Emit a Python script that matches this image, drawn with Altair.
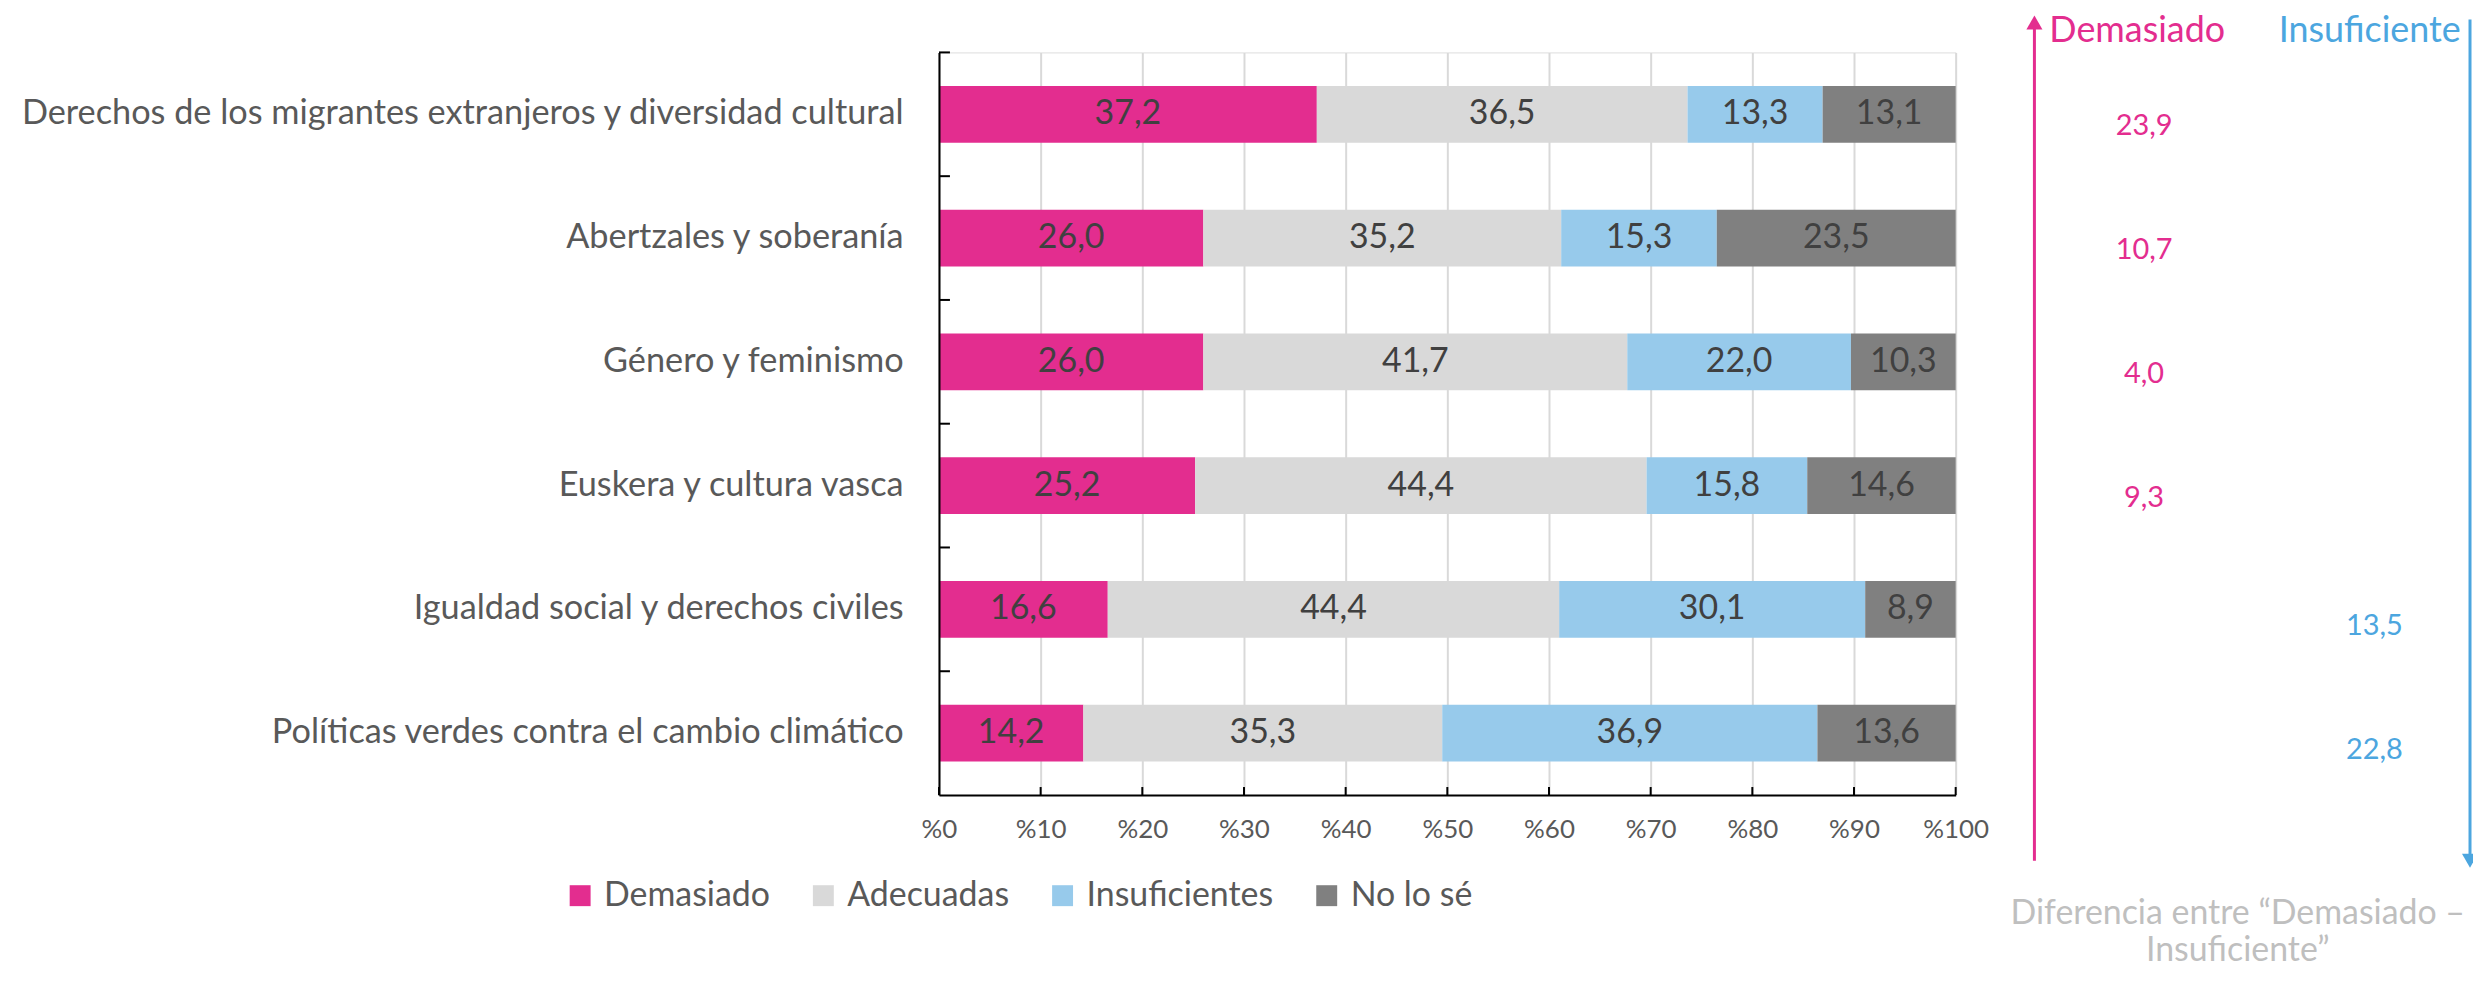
import altair as alt
import pandas as pd

cats = [
    "Derechos de los migrantes extranjeros y diversidad cultural",
    "Abertzales y soberanía",
    "Género y feminismo",
    "Euskera y cultura vasca",
    "Igualdad social y derechos civiles",
    "Políticas verdes contra el cambio climático",
]
responses = ["Demasiado", "Adecuadas", "Insuficientes", "No lo sé"]
demasiado = [37.2, 26.0, 26.0, 25.2, 16.6, 14.2]
adecuadas = [36.5, 35.2, 41.7, 44.4, 44.4, 35.3]
insuficientes = [13.3, 15.3, 22.0, 15.8, 30.1, 36.9]
no_lo_se = [13.1, 23.5, 10.3, 14.6, 8.9, 13.6]
diferencia = [23.9, 10.7, 4.0, 9.3, -13.5, -22.8]
x_ticks = [0, 0.1, 0.2, 0.3, 0.4, 0.5, 0.6, 0.7, 0.8, 0.9, 1.0]

colors = ["#E32D8F", "#D9D9D9", "#97CAEB", "#808080"]
PINK = "#E32D8F"
BLUE = "#4CA6DF"
FONT = "Lato"
FONT2 = "Lato"

rows = []
for i, c in enumerate(cats):
    for j, (r, vals) in enumerate(zip(responses, [demasiado, adecuadas, insuficientes, no_lo_se])):
        rows.append({"cat": c, "resp": r, "order": j, "value": vals[i]})
df = pd.DataFrame(rows)
df_diff = pd.DataFrame({"cat": cats, "diff": diferencia})
df_ticks = pd.DataFrame({"t": x_ticks})
df_cats = pd.DataFrame({"cat": cats})
dummy = pd.DataFrame({"k": [0]})

yscale = alt.Scale(domain=cats, paddingInner=0, paddingOuter=0)
xscale = alt.Scale(domain=[0, 1], nice=False)

xaxis = alt.Axis(values=x_ticks, labelExpr="'%' + round(datum.value * 100)",
                 grid=True, gridColor="#D9D9D9", gridWidth=2,
                 domain=True, domainColor="#000000", domainWidth=2,
                 ticks=False, labelFont=FONT, labelFontSize=26, labelFlush=False,
                 labelColor="#595959", labelPadding=22, zindex=0, title=None)
yaxis = alt.Axis(domain=True, domainColor="#000000", domainWidth=2, ticks=False,
                 grid=False, labelFont=FONT, labelFontSize=34.4, labelColor="#595959",
                 labelPadding=36, labelLimit=3000, zindex=1, title=None)


def X(field):
    return alt.X(field, scale=xscale, axis=xaxis, title=None)


def Y(**kw):
    return alt.Y("cat:N", scale=yscale, axis=yaxis, title=None, **kw)


base = alt.Chart(df).transform_stack(
    stack="value", groupby=["cat"], as_=["x0", "x1"], offset="normalize",
    sort=[alt.SortField("order", order="ascending")],
).transform_calculate(
    mid="(datum.x0 + datum.x1) / 2",
    label="replace(format(datum.value, '.1f'), '.', ',')",
)

bars = base.mark_bar(height={"band": 0.459}).encode(
    x=X("x0:Q"),
    x2="x1:Q",
    y=Y(),
    color=alt.Color("resp:N", scale=alt.Scale(domain=responses, range=colors),
                    legend=alt.Legend(orient="none", legendX=-377, legendY=829,
                                      direction="horizontal", title=None,
                                      symbolType="square", symbolSize=441,
                                      symbolStrokeWidth=0, symbolOpacity=1,
                                      labelFont=FONT, labelFontSize=34, labelLimit=1000,
                                      labelColor="#595959", labelOffset=7,
                                      columnPadding=36)),
)

labels = base.mark_text(font=FONT, fontSize=34, color="#404040").encode(
    x=X("mid:Q"),
    y=Y(),
    text="label:N",
)

xtick_rules = alt.Chart(df_ticks).mark_rule(color="#000000", strokeWidth=2).encode(
    x=X("t:Q"),
    y=alt.value(737), y2=alt.value(745),
)

ytick_rules = alt.Chart(df_cats).mark_rule(color="#000000", strokeWidth=2).encode(
    y=Y(bandPosition=0),
    x=alt.value(0), x2=alt.value(11),
)

diff_base = alt.Chart(df_diff).transform_calculate(
    txt="replace(format(abs(datum.diff), '.1f'), '.', ',')"
)
pos_txt = diff_base.transform_filter("datum.diff > 0").mark_text(
    font=FONT2, fontSize=29, color=PINK, dy=12
).encode(x=alt.value(1209), y=Y(), text="txt:N")
neg_txt = diff_base.transform_filter("datum.diff < 0").mark_text(
    font=FONT2, fontSize=29, color=BLUE, dy=17
).encode(x=alt.value(1440), y=Y(), text="txt:N")

d = alt.Chart(dummy)
pink_line = d.mark_rule(color=PINK, strokeWidth=3).encode(
    x=alt.value(1099), y=alt.value(-26), y2=alt.value(811))
pink_head = d.mark_point(shape="triangle-up", filled=True, size=260, color=PINK, opacity=1).encode(
    x=alt.value(1099), y=alt.value(-30))
blue_line = d.mark_rule(color=BLUE, strokeWidth=3).encode(
    x=alt.value(1536), y=alt.value(-33), y2=alt.value(806))
blue_head = d.mark_point(shape="triangle-down", filled=True, size=260, color=BLUE, opacity=1).encode(
    x=alt.value(1536), y=alt.value(811))
t_dem = d.mark_text(font=FONT2, fontSize=36, color=PINK, align="left", baseline="middle").encode(
    x=alt.value(1114), y=alt.value(-21), text=alt.value("Demasiado"))
t_ins = d.mark_text(font=FONT2, fontSize=36, color=BLUE, align="left", baseline="middle").encode(
    x=alt.value(1344), y=alt.value(-21), text=alt.value("Insuficiente"))
t_bottom = d.mark_text(font=FONT2, fontSize=34, color="#BFBFBF", align="center",
                       baseline="middle", lineHeight=38).encode(
    x=alt.value(1303), y=alt.value(864),
    text=alt.value(["Diferencia entre “Demasiado –", "Insuficiente”"]))

chart = alt.layer(
    bars, labels, xtick_rules, ytick_rules, pos_txt, neg_txt,
    pink_line, pink_head, blue_line, blue_head, t_dem, t_ins, t_bottom,
).properties(
    width=1020, height=745,
    autosize=alt.AutoSizeParams(type="none"),
    padding={"left": 934, "top": 43, "right": 519, "bottom": 172},
).configure_view(stroke=None).configure(background="#FFFFFF")

chart.save("out.html", embed_options={"renderer": "svg", "actions": False})
